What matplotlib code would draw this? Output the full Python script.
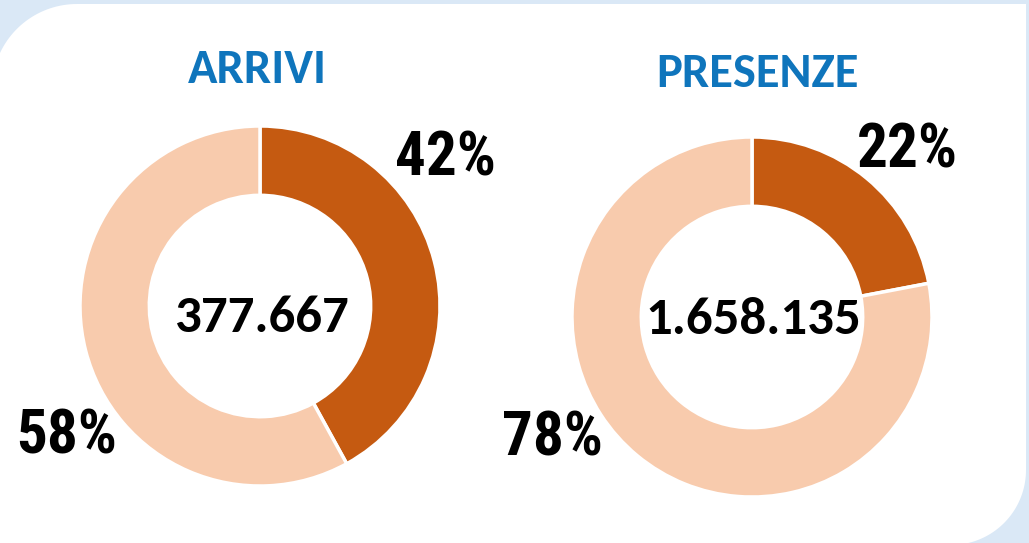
import numpy as np
import matplotlib
matplotlib.use("Agg")
import matplotlib.pyplot as plt
from matplotlib.patches import Polygon

# dati
titoli = ["ARRIVI", "PRESENZE"]
totali = ["377.667", "1.658.135"]
quote = [[42, 58], [22, 78]]
etichette = [["42%", "58%"], ["22%", "78%"]]

scuro = "#C55A11"
chiaro = "#F8CBAD"
blu = "#0F75BC"
sfondo = "#DAE8F6"

W, H = 1029, 543
fig = plt.figure(figsize=(W / 100, H / 100), dpi=100)
fig.patch.set_facecolor(sfondo)

# pannello bianco con angoli arrotondati (alto-sx e basso-dx)
bg = fig.add_axes([0, 0, 1, 1])
bg.set_xlim(0, W)
bg.set_ylim(H, 0)
bg.axis("off")


def arco(cx, cy, r, a0, a1):
    t = np.radians(np.linspace(a0, a1, 40))
    return np.column_stack([cx + r * np.cos(t), cy - r * np.sin(t)])


x0, x1, y0, y1 = -8, 1026, 4, 545
r1, r2 = 85, 75
pts = np.vstack([
    arco(x0 + r1, y0 + r1, r1, 180, 90),
    [[x1 + 20, y0]],
    [[x1, y0]],
    arco(x1 - r2, y1 - r2, r2, 0, -90),
    [[x0, y1]],
])
bg.add_patch(Polygon(pts, closed=True, facecolor="white", edgecolor="none"))

# posizioni in pixel dall'alto
centri = [(260, 306), (752, 317)]
raggio = 180
pos_titoli = [(257, 66), (757, 70)]
pos_totali = [(261, 314), (753, 315)]
pos_etich = [[(445, 152), (67, 431)], [(907, 144), (552, 432)]]

font_titolo = ["Carlito", "DejaVu Sans"]
font_perc = ["Roboto Condensed", "Liberation Sans", "DejaVu Sans"]

for i in range(2):
    cx, cy = centri[i]
    ax = fig.add_axes([(cx - raggio) / W, (H - cy - raggio) / H,
                       2 * raggio / W, 2 * raggio / H])
    ax.pie(quote[i], colors=[scuro, chiaro], startangle=90, counterclock=False,
           radius=1, wedgeprops=dict(width=0.385, edgecolor="white", linewidth=2.5))
    ax.set_xlim(-1, 1)
    ax.set_ylim(-1, 1)
    ax.set_aspect("equal")
    ax.axis("off")

    tx, ty = pos_totali[i]
    bg.text(tx, ty, totali[i], ha="center", va="center_baseline", fontsize=38,
            fontweight="bold", family=font_titolo, color="black")
    for j in range(2):
        px, py = pos_etich[i][j]
        bg.text(px, py, etichette[i][j], ha="center", va="center_baseline", fontsize=44,
                fontweight="bold", family=font_perc, color="black")
    tx, ty = pos_titoli[i]
    bg.text(tx, ty, titoli[i], ha="center", va="center_baseline", fontsize=35,
            fontweight="bold", family=font_titolo, color=blu)

fig.savefig("out.png", dpi=100, facecolor=fig.get_facecolor())
